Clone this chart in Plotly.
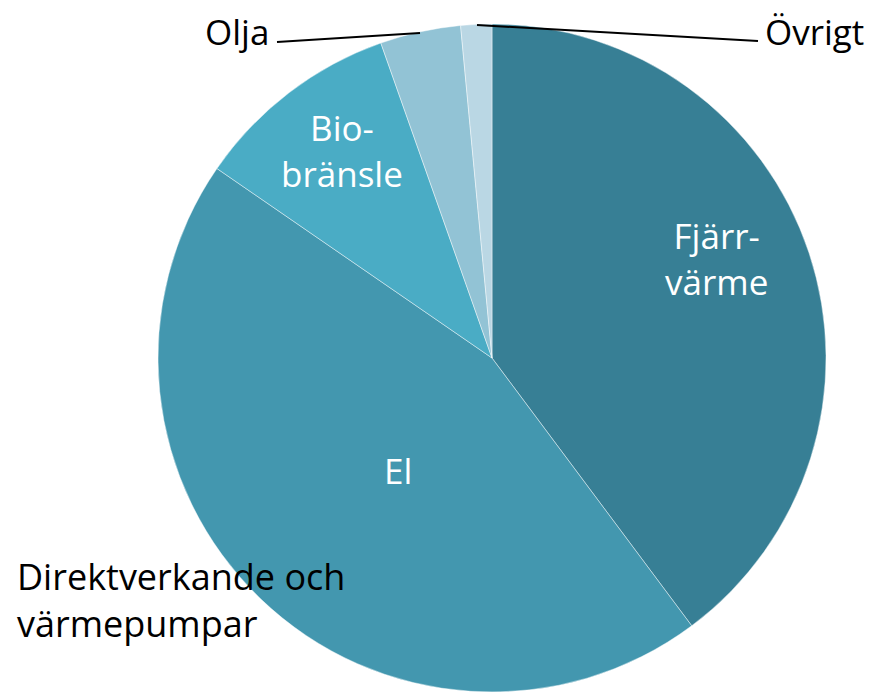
import plotly.graph_objects as go

categories = ["Fjärrvärme", "El", "Biobränsle", "Olja", "Övrigt"]
values = [39.8, 44.8, 10.0, 3.9, 1.5]
colors = ["#377F95", "#4397AF", "#4AACC5", "#92C3D5", "#BAD7E4"]

# the page body has an 8px margin; the figure is placed at (8, 8)
OFF = 8
W, H = 883 - OFF, 696 - OFF
FONT = "'Open Sans', sans-serif"

def px(x):
    return (x - OFF) / W

def py(y):
    return 1 - (y - OFF) / H

fig = go.Figure(go.Pie(
    labels=categories,
    values=values,
    sort=False,
    direction="clockwise",
    rotation=0,
    marker=dict(colors=colors, line=dict(color="rgba(255,255,255,0.55)", width=0.8)),
    textinfo="none",
    hoverinfo="label+value",
    showlegend=False,
    domain=dict(x=[px(158), px(826)], y=[py(692), py(24)]),
))

def ann(text, x, y, color, size, xanchor="center"):
    fig.add_annotation(text=text, x=px(x), y=py(y), xref="paper", yref="paper",
                       showarrow=False, xanchor=xanchor, yanchor="middle",
                       borderpad=0,
                       font=dict(family=FONT, size=size, color=color),
                       align="center" if xanchor == "center" else "left")

ann("Fjärr-<br>värme", 716, 258, "white", 35)
ann("El", 398, 470, "white", 35)
ann("Bio-<br>bränsle", 342, 150, "white", 35)
ann("Olja", 204, 32, "black", 35, "left")
ann("Övrigt", 764, 32, "black", 35, "left")
ann("Direktverkande och<br>värmepumpar", 16, 600, "black", 36, "left")

fig.add_shape(type="line", xref="paper", yref="paper",
              x0=px(277), y0=py(42), x1=px(420), y1=py(33),
              line=dict(color="black", width=2))
fig.add_shape(type="line", xref="paper", yref="paper",
              x0=px(477), y0=py(25), x1=px(758), y1=py(41),
              line=dict(color="black", width=2))

fig.update_layout(width=W, height=H, margin=dict(l=0, r=0, t=0, b=0),
                  paper_bgcolor="white", plot_bgcolor="white")

fig.write_html("out.html")
